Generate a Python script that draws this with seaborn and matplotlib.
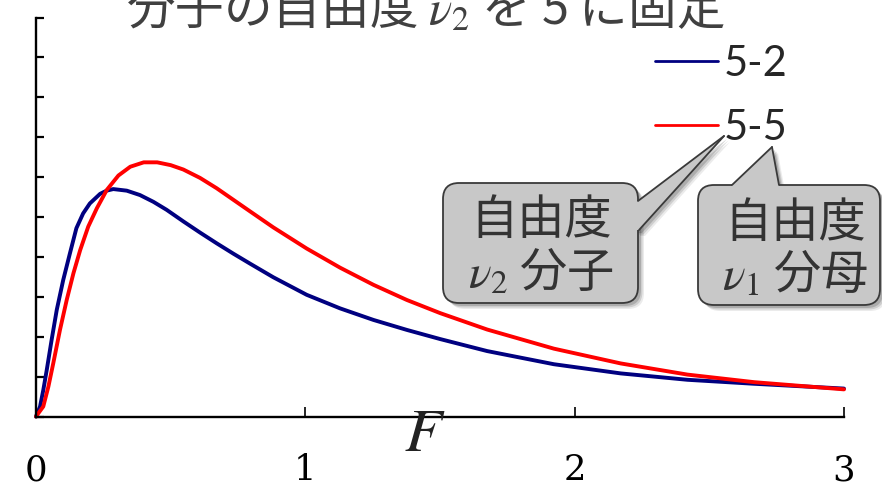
import matplotlib
matplotlib.use("Agg")
import matplotlib.pyplot as plt
import matplotlib.transforms as mtransforms
from matplotlib.patches import FancyBboxPatch, Polygon
from matplotlib.lines import Line2D
from matplotlib.font_manager import FontProperties
import pandas as pd
import seaborn as sns

# F distribution densities, numerator df fixed at 5
f52_x = [0, 0.015, 0.027, 0.040, 0.058, 0.077, 0.101, 0.126, 0.150, 0.175, 0.200,
         0.238, 0.262, 0.287, 0.337, 0.386, 0.436, 0.485, 0.547, 0.609, 0.671,
         0.733, 0.795, 0.881, 1.005, 1.129, 1.253, 1.377, 1.501, 1.675, 1.923,
         2.171, 2.419, 2.667, 3.0]
f52_y = [0, 0.025, 0.066, 0.117, 0.192, 0.267, 0.342, 0.409, 0.472, 0.509, 0.534,
         0.558, 0.566, 0.570, 0.566, 0.555, 0.538, 0.518, 0.489, 0.461, 0.434,
         0.408, 0.383, 0.349, 0.305, 0.271, 0.242, 0.217, 0.194, 0.164, 0.131,
         0.108, 0.092, 0.082, 0.070]

f55_x = [0, 0.027, 0.046, 0.064, 0.089, 0.114, 0.139, 0.164, 0.194, 0.226, 0.263,
         0.306, 0.350, 0.400, 0.450, 0.500, 0.547, 0.609, 0.671, 0.733, 0.795,
         0.881, 1.005, 1.129, 1.253, 1.377, 1.501, 1.675, 1.923, 2.171, 2.419,
         2.667, 3.0]
f55_y = [0, 0.025, 0.075, 0.133, 0.217, 0.292, 0.359, 0.417, 0.476, 0.522, 0.568,
         0.604, 0.626, 0.637, 0.637, 0.630, 0.619, 0.598, 0.572, 0.543, 0.514,
         0.474, 0.421, 0.373, 0.330, 0.292, 0.259, 0.218, 0.170, 0.133, 0.105,
         0.086, 0.068]

series_labels = ["5-2", "5-5"]
series_colors = ["#000080", "#ff0000"]
x_ticks = [0, 1, 2, 3]
x_tick_labels = ["0", "1", "2", "3"]
y_ticks = [0.0, 0.1, 0.2, 0.3, 0.4, 0.5, 0.6, 0.7, 0.8, 0.9, 1.0]
title_text = "分子の自由度 $\\nu_2$ を 5 に固定"
x_label = "$F$"
callout_texts = [("自由度", "$\\nu_2$ 分子"), ("自由度", "$\\nu_1$ 分母")]

sns.set_style("ticks")
plt.rcParams["font.family"] = ["Noto Sans CJK JP", "DejaVu Sans"]
plt.rcParams["mathtext.fontset"] = "stix"

df = pd.concat([
    pd.DataFrame({"F": f52_x, "density": f52_y, "series": series_labels[0]}),
    pd.DataFrame({"F": f55_x, "density": f55_y, "series": series_labels[1]}),
], ignore_index=True)

W, H = 882, 491
fig = plt.figure(figsize=(W / 100, H / 100), dpi=100)
# pixel coordinates measured from the top-left corner of the canvas
T = mtransforms.Affine2D().scale(1 / W, -1 / H).translate(0, 1) + fig.transFigure

ax = fig.add_axes([36 / W, 1 - 416.5 / H, (844 - 36) / W, (416.5 - 17.5) / H])
sns.lineplot(data=df, x="F", y="density", hue="series",
             palette=dict(zip(series_labels, series_colors)),
             estimator=None, sort=False, linewidth=2.8, legend=False, ax=ax)
for ln in ax.lines:
    ln.set_clip_on(False)
    ln.set_solid_capstyle("round")
    ln.set_solid_joinstyle("round")

ax.set_xlim(0, 3)
ax.set_ylim(0, 1)
ax.set_xlabel("")
ax.set_ylabel("")
ax.set_xticks(x_ticks)
ax.set_xticklabels(x_tick_labels, fontfamily="DejaVu Serif", fontsize=25.5)
ax.set_yticks(y_ticks)
ax.set_yticklabels([])
sns.despine(ax=ax)
for s in ("left", "bottom"):
    ax.spines[s].set_linewidth(1.7)
    ax.spines[s].set_color("black")
ax.tick_params(axis="x", direction="in", length=7, width=1.2, pad=26.5, colors="black")
ax.tick_params(axis="y", direction="in", length=6, width=1.6, colors="black")

# legend
handles = [Line2D([], [], color=c, lw=2.0) for c in series_colors]
ax.legend(handles, series_labels, loc="upper left", bbox_to_anchor=(655, 45),
          bbox_transform=T, frameon=False, prop=FontProperties(family="Lato", size=30),
          handlelength=1.5, handletextpad=0.15, labelspacing=0.62,
          borderpad=0, borderaxespad=0)

# title and axis label
fig.text(425, 24, title_text, transform=T, ha="center", va="baseline",
         fontsize=35, color="#404040", family="Noto Sans CJK JP")
fig.text(425, 434, x_label, transform=T, ha="center", va="center",
         fontsize=44, color="#222222")

box_fc = "#c8c8c8"
box_ec = "#3a3a3a"


def callout(x0, y0, x1, y1, wedge_fill, wedge_lines, lines, cx, base1, base2):
    w, h = x1 - x0, y1 - y0
    for off, a in [(6, 0.08), (4.5, 0.12), (3, 0.16)]:
        fig.patches.append(FancyBboxPatch((x0 + off, y0 + off), w, h,
                                          boxstyle="round,pad=0,rounding_size=16",
                                          fc="black", ec="none", alpha=a,
                                          transform=T, figure=fig, zorder=2))
        fig.patches.append(Polygon([(px + off, py + off) for px, py in wedge_fill],
                                   closed=True, fc="black", ec="none", alpha=a,
                                   transform=T, figure=fig, zorder=2))
    fig.patches.append(FancyBboxPatch((x0, y0), w, h,
                                      boxstyle="round,pad=0,rounding_size=16",
                                      fc=box_fc, ec=box_ec, lw=1.3,
                                      transform=T, figure=fig, zorder=3))
    fig.patches.append(Polygon(wedge_fill, closed=True, fc=box_fc, ec="none",
                               transform=T, figure=fig, zorder=4))
    for (a, b) in wedge_lines:
        fig.lines.append(Line2D([a[0], b[0]], [a[1], b[1]], color=box_ec, lw=1.3,
                                transform=T, figure=fig, zorder=5))
    fig.text(cx, base1, lines[0], transform=T, ha="center", va="baseline",
             fontsize=34, color="#333333", family="Noto Sans CJK JP", zorder=6)
    fig.text(cx, base2, lines[1], transform=T, ha="center", va="baseline",
             fontsize=34, color="#333333", family="Noto Sans CJK JP", zorder=6)


tip1 = (724, 136)
callout(443, 183, 638, 303,
        [(634, 201), (638, 201), tip1, (639, 230), (634, 230)],
        [((638, 201), tip1), ((639, 230), tip1)],
        callout_texts[0], 541, 234, 288)

tip2 = (772, 147)
callout(698, 185, 880, 305,
        [(732, 189), (732, 185), tip2, (779, 185), (779, 189)],
        [((732, 185), tip2), ((779, 185), tip2)],
        callout_texts[1], 795, 237, 290)

fig.savefig("out.png", dpi=100)
